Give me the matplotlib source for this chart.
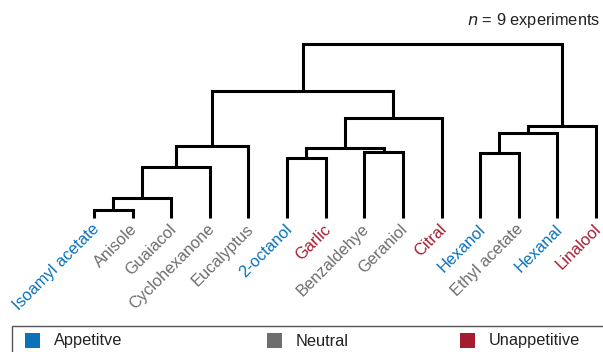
import matplotlib
matplotlib.use("Agg")
import matplotlib.pyplot as plt
from matplotlib.patches import Rectangle

plt.rcParams['font.family'] = ['Liberation Sans', 'DejaVu Sans']

# ---- data ----
leaf_labels = ["Isoamyl acetate", "Anisole", "Guaiacol", "Cyclohexanone", "Eucalyptus",
               "2-octanol", "Garlic", "Benzaldehye", "Geraniol", "Citral",
               "Hexanol", "Ethyl acetate", "Hexanal", "Linalool"]
leaf_class = ["Appetitve", "Neutral", "Neutral", "Neutral", "Neutral",
              "Appetitve", "Unappetitive", "Neutral", "Neutral", "Unappetitive",
              "Appetitve", "Neutral", "Appetitve", "Unappetitive"]
# linkage: (cluster a, cluster b, height); new clusters numbered from 14
merge_a = [0, 14, 15, 16, 5, 7, 18, 20, 17, 10, 23, 24, 22]
merge_b = [1, 2, 3, 4, 6, 8, 19, 9, 21, 11, 12, 13, 25]
merge_h = [8, 20, 51, 72, 60, 66, 70, 100, 127, 65, 85, 92, 174]
categories = ["Appetitve", "Neutral", "Unappetitive"]
cat_colors = {"Appetitve": "#0A72BA", "Neutral": "#6E6E6E", "Unappetitive": "#A51C30"}

W, H = 603, 352
fig = plt.figure(figsize=(W / 100, H / 100), dpi=100)
# axes: leaf 0 at x=94px, leaf 13 at x=596px; baseline y=218px, root at y=44px
ax = fig.add_axes([94 / W, (H - 218) / H, (596 - 94) / W, (218 - 44) / H])
ax.set_xlim(0, len(leaf_labels) - 1)
ax.set_ylim(0, max(merge_h))
ax.axis('off')

n = len(leaf_labels)
pos = {i: (float(i), 0.0) for i in range(n)}
for k, (a, b, h) in enumerate(zip(merge_a, merge_b, merge_h)):
    xa, ya = pos[a]
    xb, yb = pos[b]
    ax.plot([xa, xa, xb, xb], [ya, h, h, yb], color='black', lw=2.2,
            solid_capstyle='butt', solid_joinstyle='miter', clip_on=False)
    pos[n + k] = ((xa + xb) / 2, h)

for i, (lab, cl) in enumerate(zip(leaf_labels, leaf_class)):
    ax.annotate(lab, xy=(i, 0), xytext=(2.5, -9), textcoords='offset pixels',
                rotation=45, ha='right', va='center', rotation_mode='anchor',
                fontsize=11.8, color=cat_colors[cl], annotation_clip=False)

fig.text(600 / W, 1 - 20 / H, r"$\it{n}$ = 9 experiments", ha='right', va='center',
         fontsize=11.8, color='#222222')

# legend box
fig.patches.append(Rectangle((12 / W, -10 / H), (W + 10 - 12) / W, (H - 326 + 10) / H,
                             transform=fig.transFigure, fill=False, edgecolor='#555555',
                             lw=1.0))
sq_x = [25, 267, 460]
for cat, sx in zip(categories, sq_x):
    fig.patches.append(Rectangle((sx / W, (H - 348) / H), 15 / W, 15 / H,
                                 transform=fig.transFigure, facecolor=cat_colors[cat],
                                 edgecolor='none'))
    fig.text((sx + 29) / W, (H - 341) / H, cat, ha='left', va='center',
             fontsize=11.8, color='#222222')

fig.savefig("out.png", dpi=100)
